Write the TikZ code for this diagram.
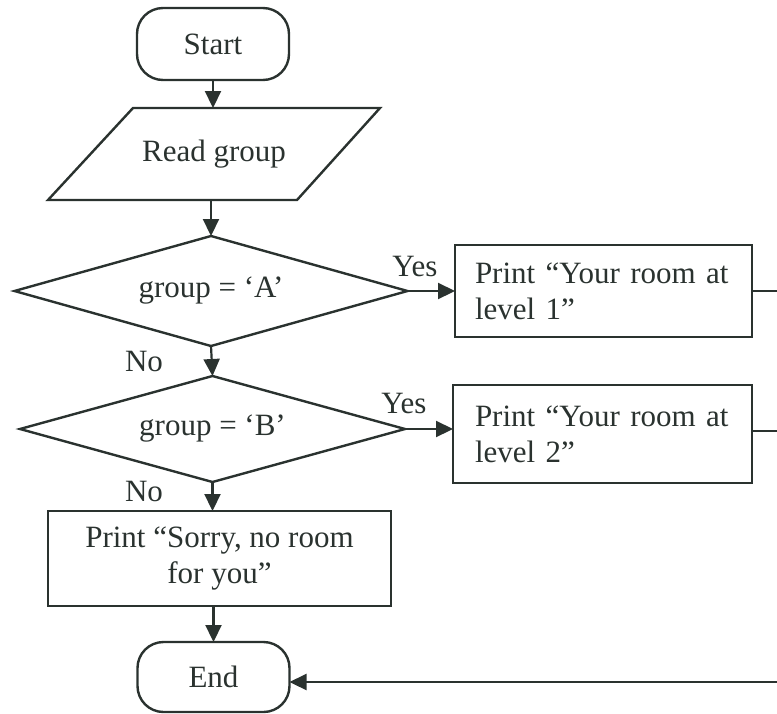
\documentclass[tikz,border=0pt]{standalone}
\usepackage{fontspec}
\setmainfont{Liberation Serif}
\usetikzlibrary{shapes.geometric,arrows.meta,calc}
\definecolor{ink}{RGB}{42,50,47}
\begin{document}
\begin{tikzpicture}[x=0.5pt,y=-0.5pt,
  every node/.style={text=ink,font=\fontsize{15.5}{18}\selectfont},
  base/.style={draw=ink,line width=1.2pt,inner sep=0pt,outer sep=0pt},
  term/.style={base,rectangle,rounded corners=13pt,minimum width=76pt},
  procbox/.style={base,rectangle},
  decision/.style={base,diamond,aspect=3.6},
  flow/.style={draw=ink,line width=1.1pt,-{Triangle[length=8.5pt,width=8pt]}},
  plain/.style={draw=ink,line width=1.1pt},
  lbl/.style={inner sep=0pt}]
\useasboundingbox (0,0) rectangle (777,713);

\node[term,minimum height=36pt] (start) at (213,44) {Start};
\node[inner sep=0pt,outer sep=0pt,minimum width=166pt,minimum height=46pt] (read) at (214,154) {Read group};
\draw[draw=ink,line width=1.2pt,line join=miter]
  ($(read.north west)+(85,0)$) -- (read.north east) -- ($(read.south east)+(-83,0)$) -- (read.south west) -- cycle;
\node[decision,minimum width=196.5pt,minimum height=55pt] (dA) at (211,291) {group = ‘A’};
\node[decision,minimum width=192.5pt,minimum height=53pt] (dB) at (212.5,429) {group = ‘B’};
\node[procbox,minimum width=148.5pt,minimum height=46pt,align=left,text width=128.5pt] (b1) at (603.5,291) {Print “Your room at\\level 1”};
\node[procbox,minimum width=149.5pt,minimum height=49pt,align=left,text width=127.5pt] (b2) at (602.5,434) {Print “Your room at\\level 2”};
\node[procbox,minimum width=171.5pt,minimum height=47.5pt,align=center] (sorry) at (219.5,558.5) {Print “Sorry, no room\\for you”};
\node[term,minimum height=35pt] (end) at (213.5,677) {End};

\coordinate (r1) at (777,291);
\coordinate (r2) at (777,431);
\coordinate (r3) at (777,682);

\draw[flow] (start.south |- start.south) -- (start.south |- read.north);
\draw[flow] (dA.north |- read.south) -- (dA.north);
\draw[flow] (dA.south) -- (dB.north);
\draw[flow] (dB.south) -- (dB.south |- sorry.north);
\draw[flow] (end.north |- sorry.south) -- (end.north);
\draw[flow] (dA.east) -- (dA.east -| b1.west);
\draw[flow] (dB.east) -- (dB.east -| b2.west);
\draw[plain] (b1.east) -- (r1);
\draw[plain] (r2 -| b2.east) -- (r2);
\draw[flow] (r3) -- (r3 -| end.east);

\node[lbl] (yA) at (415,266) {Yes};
\node[lbl] (yB) at (404,403) {Yes};
\node[lbl] (nA) at (144,361) {No};
\node[lbl] (nB) at (144,491) {No};
\end{tikzpicture}
\end{document}
